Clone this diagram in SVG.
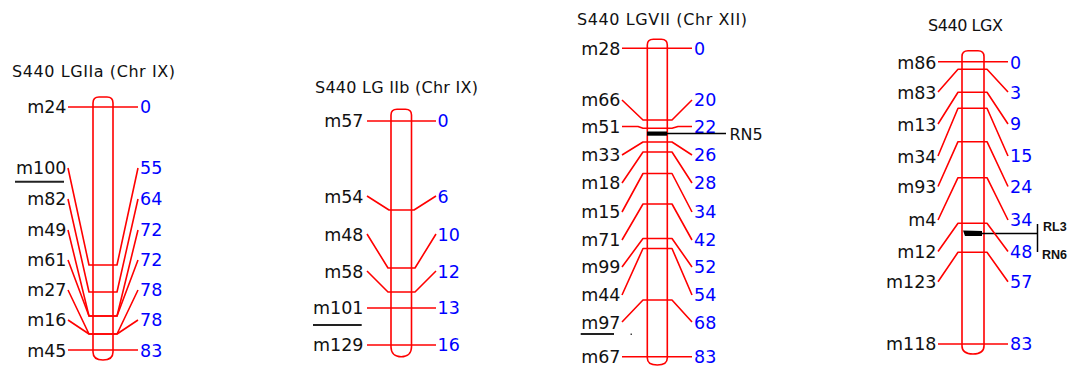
<svg xmlns="http://www.w3.org/2000/svg" width="1071" height="389" viewBox="0 0 1071 389">
<style>
.bar{fill:none;stroke:#ff0000;stroke-width:1.6}
.con{fill:none;stroke:#ff0000;stroke-width:1.6;stroke-linejoin:round}
.lab{font-family:"DejaVu Sans",sans-serif;font-size:17.5px;fill:#111;text-anchor:end}
.num{font-family:"DejaVu Sans",sans-serif;font-size:17.5px;fill:#0000ff}
.ttl{font-family:"DejaVu Sans",sans-serif;font-size:16px;fill:#111}
.ul{stroke:#222;stroke-width:2}
.blk{stroke:#000;stroke-width:1.5;fill:none}
.tag{font-family:"DejaVu Sans",sans-serif;font-size:16px;fill:#111}
.tags{font-family:"Liberation Sans",sans-serif;font-size:12.5px;font-weight:bold;fill:#111}
</style>
<rect width="1071" height="389" fill="#ffffff"/>

<g id="chr-LGIIa">
<text class="ttl" x="12" y="77" textLength="163" lengthAdjust="spacing">S440 LGIIa (Chr IX)</text>
<path class="bar" d="M93,103 L93,352 C93,358 97,360 103,360 C109,360 113,358 113,352 L113,103 C113,99 111,97 107,97 L99,97 C95,97 93,99 93,103 Z"/>
<text class="lab" x="66.5" y="113.4">m24</text>
<text class="lab" x="66.5" y="174.4">m100</text>
<text class="lab" x="66.5" y="205.4">m82</text>
<text class="lab" x="66.5" y="236.4">m49</text>
<text class="lab" x="66.5" y="266.4">m61</text>
<text class="lab" x="66.5" y="296.4">m27</text>
<text class="lab" x="66.5" y="326.4">m16</text>
<text class="lab" x="66.5" y="357.4">m45</text>
<line class="ul" x1="15" y1="181.7" x2="64" y2="181.7"/>
<text class="num" x="140" y="113.4">0</text>
<text class="num" x="140" y="174.4">55</text>
<text class="num" x="140" y="205.4">64</text>
<text class="num" x="140" y="236.4">72</text>
<text class="num" x="140" y="266.4">72</text>
<text class="num" x="140" y="296.4">78</text>
<text class="num" x="140" y="326.4">78</text>
<text class="num" x="140" y="357.4">83</text>
</g>

<g id="chr-LGIIb">
<text class="ttl" x="315" y="93" textLength="163" lengthAdjust="spacing">S440 LG IIb (Chr IX)</text>
<path class="bar" d="M391,115 L391,347 C391,353 395,356.7 401.2,356.7 C407.5,356.7 411.5,353 411.5,347 L411.5,115 C411.5,111 409.5,109.3 405.5,109.3 L397,109.3 C393,109.3 391,111 391,115 Z"/>
<text class="lab" x="363.5" y="127.4">m57</text>
<text class="lab" x="363.5" y="203.1">m54</text>
<text class="lab" x="363.5" y="241.4">m48</text>
<text class="lab" x="363.5" y="278.1">m58</text>
<text class="lab" x="363.5" y="314.4">m101</text>
<text class="lab" x="363.5" y="351.4">m129</text>
<line class="ul" x1="313" y1="325" x2="361.7" y2="325"/>
<text class="num" x="437.5" y="127.4">0</text>
<text class="num" x="437.5" y="203.1">6</text>
<text class="num" x="437.5" y="241.4">10</text>
<text class="num" x="437.5" y="278.1">12</text>
<text class="num" x="437.5" y="314.4">13</text>
<text class="num" x="437.5" y="351.4">16</text>
</g>

<g id="chr-LGVII">
<text class="ttl" x="577" y="25" textLength="170" lengthAdjust="spacing">S440 LGVII (Chr XII)</text>
<path class="bar" d="M647.3,45 L647.3,358 C647.3,362.5 651,365 657.3,365 C663.6,365 667.3,362.5 667.3,358 L667.3,45 C667.3,41 665.3,39.3 661.3,39.3 L653.3,39.3 C649.3,39.3 647.3,41 647.3,45 Z"/>
<text class="lab" x="620.5" y="54.7">m28</text>
<text class="lab" x="620.5" y="106.4">m66</text>
<text class="lab" x="620.5" y="133.1">m51</text>
<text class="lab" x="620.5" y="161.4">m33</text>
<text class="lab" x="620.5" y="189.4">m18</text>
<text class="lab" x="620.5" y="218.4">m15</text>
<text class="lab" x="620.5" y="246.4">m71</text>
<text class="lab" x="620.5" y="273.4">m99</text>
<text class="lab" x="620.5" y="301.4">m44</text>
<text class="lab" x="620.5" y="329.4">m97</text>
<text class="lab" x="620.5" y="363.1">m67</text>
<line class="ul" x1="580.7" y1="334" x2="614" y2="334"/>
<rect x="630.5" y="333.5" width="1.5" height="1.5" fill="#444"/>
<text class="num" x="694" y="54.7">0</text>
<text class="num" x="694" y="106.4">20</text>
<text class="num" x="694" y="133.1">22</text>
<text class="num" x="694" y="161.4">26</text>
<text class="num" x="694" y="189.4">28</text>
<text class="num" x="694" y="218.4">34</text>
<text class="num" x="694" y="246.4">42</text>
<text class="num" x="694" y="273.4">52</text>
<text class="num" x="694" y="301.4">54</text>
<text class="num" x="694" y="329.4">68</text>
<text class="num" x="694" y="363.1">83</text>
<rect x="647" y="131.5" width="20" height="4.2" fill="#000"/>
<line class="blk" x1="667" y1="133.5" x2="726" y2="133.5"/>
<text class="tag" x="729.5" y="140">RN5</text>
</g>

<g id="chr-LGX">
<text class="ttl" x="928" y="31" textLength="75" lengthAdjust="spacing">S440 LGX</text>
<path class="bar" d="M962,56.5 L962,346 C962,351 966,354 973,354 C980,354 984,351 984,346 L984,56.5 C984,52.5 982,50.7 978,50.7 L968,50.7 C964,50.7 962,52.5 962,56.5 Z"/>
<text class="lab" x="936.5" y="69.4">m86</text>
<text class="lab" x="936.5" y="99.4">m83</text>
<text class="lab" x="936.5" y="131.1">m13</text>
<text class="lab" x="936.5" y="162.9">m34</text>
<text class="lab" x="936.5" y="193.1">m93</text>
<text class="lab" x="936.5" y="226.4">m4</text>
<text class="lab" x="936.5" y="258.1">m12</text>
<text class="lab" x="936.5" y="288.1">m123</text>
<text class="lab" x="936.5" y="350.1">m118</text>
<text class="num" x="1010" y="69.4">0</text>
<text class="num" x="1010" y="99.4">3</text>
<text class="num" x="1010" y="130.1">9</text>
<text class="num" x="1010" y="161.9">15</text>
<text class="num" x="1010" y="193.1">24</text>
<text class="num" x="1010" y="226.4">34</text>
<text class="num" x="1010" y="258.1">48</text>
<text class="num" x="1010" y="288.1">57</text>
<text class="num" x="1010" y="350.1">83</text>
<polygon points="963,230.5 982,231 982,236 965,236" fill="#000"/>
<line class="blk" x1="982" y1="233.5" x2="1037.5" y2="233.5"/>
<line class="blk" x1="1037.5" y1="224" x2="1037.5" y2="252"/>
<text class="tags" x="1043" y="231">RL3</text>
<text class="tags" x="1042" y="259">RN6</text>
</g>

<g id="connectors">
<path class="con" d="M68,107 H138"/>
<path class="con" d="M68,168 L89,265 H117 L138,168"/>
<path class="con" d="M68,199 L89,292 H117 L138,199"/>
<path class="con" d="M68,230 L89,316 H117 L138,230"/>
<path class="con" d="M68,260 L89,316 H117 L138,260"/>
<path class="con" d="M68,290 L89,334 H117 L138,290"/>
<path class="con" d="M68,320 L89,334 H117 L138,320"/>
<path class="con" d="M68,350 H138"/>

<path class="con" d="M367,121 H436"/>
<path class="con" d="M367,196 L389,210 H414 L436,196"/>
<path class="con" d="M367,234 L388,268 H415 L436,234"/>
<path class="con" d="M367,271 L388,292 H415 L436,271"/>
<path class="con" d="M367,308 H436"/>
<path class="con" d="M367,345 H436"/>

<path class="con" d="M622,48.3 H692"/>
<path class="con" d="M622,100 L643,120 H672 L692,100"/>
<path class="con" d="M622,126.5 L638,126.5 L643,128.3 H672 L678,126.5 L692,126.5"/>
<path class="con" d="M622,155 L643,142 H672 L692,155"/>
<path class="con" d="M622,183 L643,152 H672 L692,183"/>
<path class="con" d="M622,212 L643,173.5 H672 L692,212"/>
<path class="con" d="M622,240 L643,204 H672 L692,240"/>
<path class="con" d="M622,267 L643,238.5 H672 L692,267"/>
<path class="con" d="M622,295 L643,248.5 H672 L692,295"/>
<path class="con" d="M622,322 L643,300 H672 L692,322"/>
<path class="con" d="M622,356.7 H692"/>

<path class="con" d="M938,61.7 H1008"/>
<path class="con" d="M938,92 L958,69.3 H987 L1008,92"/>
<path class="con" d="M938,124 L958,92.3 H987 L1008,124"/>
<path class="con" d="M938,156 L958,108.3 H987 L1008,156"/>
<path class="con" d="M938,186.5 L958,141.7 H987 L1008,186.5"/>
<path class="con" d="M938,220 L958,177.7 H987 L1008,220"/>
<path class="con" d="M938,251.5 L958,223.3 H987 L1008,251.5"/>
<path class="con" d="M938,281.7 L958,252.3 H987 L1008,281.7"/>
<path class="con" d="M938,344 H1008"/>
</g>
</svg>
